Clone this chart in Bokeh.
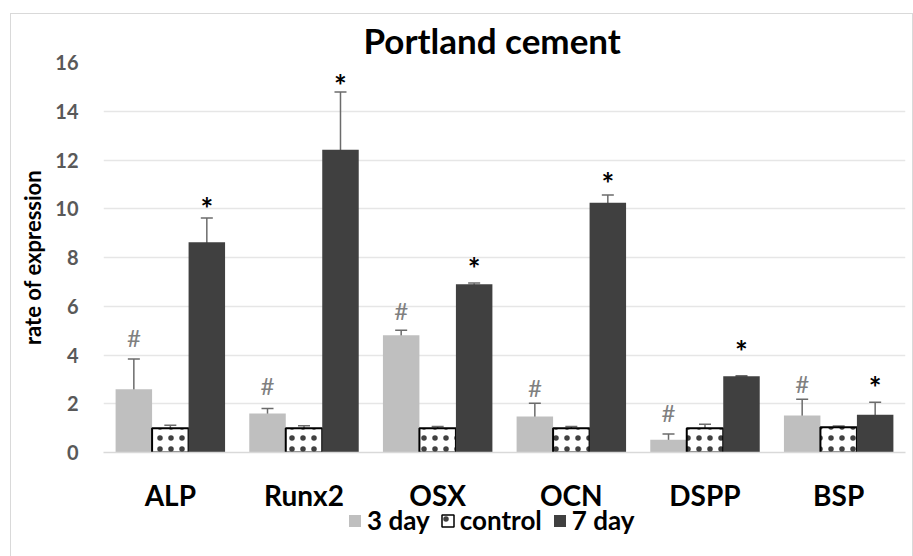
from bokeh.plotting import figure
from bokeh.layouts import column
from bokeh.models import (ColumnDataSource, FactorRange, Range1d, Whisker, TeeHead,
                          Legend, LegendItem, FixedTicker)
from bokeh.transform import dodge
from bokeh.core.properties import value
from bokeh.embed import file_html
from bokeh.resources import INLINE

# ---- data ----
genes = ["ALP", "Runx2", "OSX", "OCN", "DSPP", "BSP"]
day3 = [2.60, 1.60, 4.81, 1.48, 0.52, 1.52]
day3_err = [1.24, 0.21, 0.21, 0.54, 0.24, 0.66]
control = [1.00, 1.00, 1.00, 1.00, 1.00, 1.04]
control_err = [0.12, 0.10, 0.07, 0.07, 0.16, 0.05]
day7 = [8.63, 12.42, 6.90, 10.25, 3.13, 1.55]
day7_err = [0.99, 2.37, 0.05, 0.31, 0.02, 0.51]
hash_level = [4.73, 2.75, 5.82, 2.68, 1.65, 2.82]   # "#" marks over 3 day bars
star_level = [10.27, 15.34, 7.80, 11.29, 4.39, 2.92]  # "*" marks over 7 day bars
series_labels = ["3 day", "control", "7 day"]
y_ticks = [0, 2, 4, 6, 8, 10, 12, 14, 16]

FONT = "Lato"
BW = 0.273
C3, C7, EC = "#bfbfbf", "#404040", "#6b6b6b"
CTRL = dict(fill_color="white", line_color="black",
            hatch_pattern="dot", hatch_color="black", hatch_scale=11, hatch_alpha=0.75)
W = 901

src = ColumnDataSource(dict(
    gene=genes,
    day3=day3, control=control, day7=day7,
    d3_up=[v + e for v, e in zip(day3, day3_err)],
    d3_lo=[v - e for v, e in zip(day3, day3_err)],
    c_up=[v + e for v, e in zip(control, control_err)],
    c_lo=[v - e for v, e in zip(control, control_err)],
    d7_up=[v + e for v, e in zip(day7, day7_err)],
    d7_lo=[v - e for v, e in zip(day7, day7_err)],
    hash_level=hash_level, star_level=star_level,
))

p = figure(x_range=FactorRange(*genes), y_range=Range1d(0, 16),
           width=W, height=500, output_backend="svg", toolbar_location=None,
           min_border_left=92, min_border_right=7, min_border_top=48,
           min_border_bottom=62, title="Portland cement")
p.outline_line_color = None
p.title.align = "left"
p.title.offset = 260
p.title.text_font = FONT
p.title.text_font_size = "35px"
p.title.text_font_style = "bold"
p.title.text_color = "black"
p.title.standoff = 3

p.xgrid.grid_line_color = None
p.ygrid.grid_line_color = "#e6e6e6"
p.ygrid.grid_line_width = 1.5

p.yaxis.ticker = FixedTicker(ticks=y_ticks)
p.yaxis.axis_line_color = None
p.yaxis.major_tick_line_color = None
p.yaxis.minor_tick_line_color = None
p.yaxis.major_tick_out = 0
p.yaxis.major_tick_in = 0
p.yaxis.minor_tick_out = 0
p.yaxis.major_label_text_font = FONT
p.yaxis.major_label_text_font_size = "20px"
p.yaxis.major_label_text_font_style = "bold"
p.yaxis.major_label_text_color = "#595959"
p.yaxis.major_label_standoff = 25
p.yaxis.axis_label = "rate of expression"
p.yaxis.axis_label_text_font = FONT
p.yaxis.axis_label_text_font_size = "22px"
p.yaxis.axis_label_text_font_style = "bold"
p.yaxis.axis_label_text_color = "black"
p.yaxis.axis_label_standoff = 6

p.xaxis.axis_line_color = "#d9d9d9"
p.xaxis.axis_line_width = 1.5
p.xaxis.major_tick_line_color = None
p.xaxis.minor_tick_line_color = None
p.xaxis.major_tick_out = 0
p.xaxis.major_tick_in = 0
p.xaxis.major_label_text_font = FONT
p.xaxis.major_label_text_font_size = "28px"
p.xaxis.major_label_text_font_style = "bold"
p.xaxis.major_label_text_color = "black"
p.xaxis.major_label_standoff = 25

p.vbar(x=dodge("gene", -BW, range=p.x_range), top="day3", width=BW, source=src,
       fill_color=C3, line_color=None)
p.vbar(x=dodge("gene", 0, range=p.x_range), top="control", width=BW, source=src,
       line_width=2, **CTRL)
p.vbar(x=dodge("gene", BW, range=p.x_range), top="day7", width=BW, source=src,
       fill_color=C7, line_color=None)

for off, up, lo in [(-BW, "d3_up", "d3_lo"), (0, "c_up", "c_lo"), (BW, "d7_up", "d7_lo")]:
    w = Whisker(source=src, base=dodge("gene", off, range=p.x_range), upper=up, lower=lo,
                line_color=EC, line_width=1.5,
                upper_head=TeeHead(size=12, line_color=EC, line_width=1.5),
                lower_head=TeeHead(size=12, line_color=EC, line_width=1.5))
    p.add_layout(w)

p.text(x=dodge("gene", -BW, range=p.x_range), y="hash_level", text=value("#"), source=src,
       text_align="center", text_baseline="middle", text_color="#808080",
       text_font=value(FONT), text_font_size="24px")
p.text(x=dodge("gene", BW, range=p.x_range), y="star_level", text=value("*"), source=src,
       text_align="center", text_baseline="middle", text_color="black",
       text_font=value(FONT), text_font_size="30px", text_font_style="bold", y_offset=6)

# ---- legend strip under the chart ----
leg = figure(width=W, height=56, x_range=Range1d(0, 1), y_range=Range1d(0, 1),
             x_axis_type=None, y_axis_type=None, output_backend="svg",
             toolbar_location=None, min_border=0, margin=(-14, 0, 0, 0))
leg.grid.visible = False
leg.outline_line_color = None
leg.background_fill_alpha = 0
leg.border_fill_alpha = 0
# swatch renderers: a single bar with no height (NaN), so only the legend shows
swatch = dict(x=[0.5], top=[float("nan")])
g1 = leg.vbar(x="x", top="top", width=0.1, source=ColumnDataSource(swatch),
              fill_color=C3, line_color=None)
g2 = leg.vbar(x="x", top="top", width=0.1, source=ColumnDataSource(swatch),
              line_width=1.5, **CTRL)
g3 = leg.vbar(x="x", top="top", width=0.1, source=ColumnDataSource(swatch),
              fill_color=C7, line_color=None)
legend = Legend(items=[LegendItem(label=series_labels[0], renderers=[g1]),
                       LegendItem(label=series_labels[1], renderers=[g2]),
                       LegendItem(label=series_labels[2], renderers=[g3])],
                orientation="horizontal", location=(244, 20))
legend.label_text_font = FONT
legend.label_text_font_size = "26px"
legend.label_text_font_style = "bold"
legend.label_text_color = "black"
legend.glyph_width = 15
legend.glyph_height = 15
legend.spacing = 10
legend.label_standoff = 5
legend.padding = 0
legend.margin = 0
legend.border_line_color = None
legend.background_fill_alpha = 0
leg.add_layout(legend, "center")

layout = column(p, leg, spacing=0)
layout.styles = {"position": "absolute", "left": "10px", "top": "13px",
                 "border-left": "1px solid #d9d9d9", "border-top": "1px solid #d9d9d9",
                 "border-right": "1px solid #d9d9d9"}

open("out.html", "w").write(file_html(layout, INLINE))
